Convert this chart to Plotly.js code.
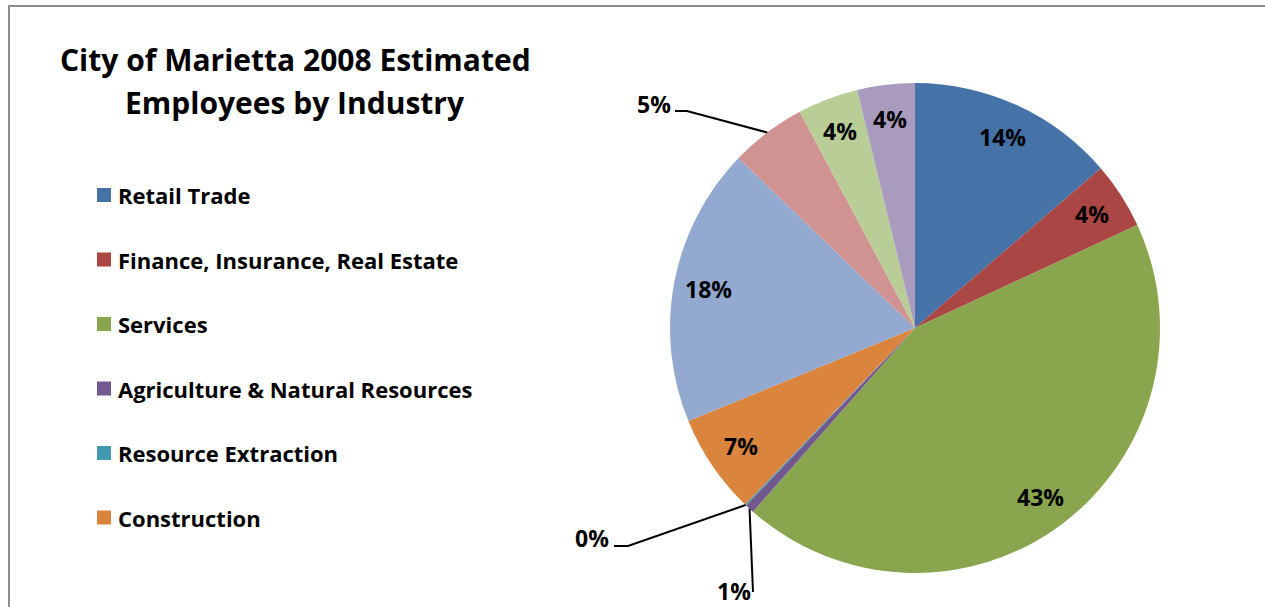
<!DOCTYPE html>
<html><head><meta charset="utf-8">
<script src="https://cdn.plot.ly/plotly-3.0.1.min.js"></script>
<style>html,body{margin:0;padding:0;background:#fff}#chart{width:1265px;height:607px}</style>
</head><body><div id="chart"></div>
<script>
// ---- data ----
const categories = ["Retail Trade", "Finance, Insurance, Real Estate", "Services",
  "Agriculture & Natural Resources", "Resource Extraction", "Construction",
  "Manufacturing", "Wholesale Trade", "Transportation, Communications, Utilities", "Government"];
const shares = [13.7, 4.4, 43.4, 0.6, 0.1, 6.6, 18.4, 5.0, 4.0, 3.8];
const titleLines = ["City of Marietta 2008 Estimated", "Employees by Industry"];

// ---- style ----
const colors = ["#4572A7", "#AA4643", "#89A54E", "#71588F", "#4198AF", "#DB843D",
  "#93A9CF", "#D19392", "#B9CD96", "#A99BBD"];
const W = 1265, H = 607;
const CX = 915, CY = 328, R = 245;
const FONT = "'Open Sans', sans-serif";
const legendShown = 6; // reference legend is cut off after six entries
// outside labels: leader line elbow/end and text position (pixels)
const outside = {
  3: {elbow: [753, 592], end: [753, 592], tx: 734, ty: 591},
  4: {elbow: [628, 546], end: [614, 546], tx: 592, ty: 538},
  7: {elbow: [687, 111], end: [675, 111], tx: 654, ty: 104}
};
const px = x => x / W, py = y => 1 - y / H;

const total = shares.reduce((a, b) => a + b, 0);
const annotations = [], shapes = [];
let cum = 0;
shares.forEach((v, i) => {
  const mid = (cum + v / 2) / total * 2 * Math.PI;
  cum += v;
  const label = Math.round(v / total * 100) + "%";
  const sx = Math.sin(mid), sy = -Math.cos(mid);
  if (outside[i]) {
    const o = outside[i];
    const x0 = CX + R * sx, y0 = CY + R * sy;
    shapes.push({type: "path", xref: "paper", yref: "paper",
      path: `M${px(x0)},${py(y0)} L${px(o.elbow[0])},${py(o.elbow[1])} L${px(o.end[0])},${py(o.end[1])}`,
      line: {color: "#000", width: 2}});
    annotations.push({xref: "paper", yref: "paper", x: px(o.tx), y: py(o.ty),
      text: "<b>" + label + "</b>", showarrow: false, xanchor: "center", yanchor: "middle",
      font: {family: FONT, size: 23, color: "#000"}});
  } else {
    const rr = R * 0.86;
    annotations.push({xref: "paper", yref: "paper", x: px(CX + rr * sx), y: py(CY + rr * sy),
      text: "<b>" + label + "</b>", showarrow: false, xanchor: "center", yanchor: "middle",
      font: {family: FONT, size: 23, color: "#000"}});
  }
});

// legend (drawn manually; only first entries visible as in reference)
for (let i = 0; i < legendShown; i++) {
  const yc = 195 + i * 64.5;
  shapes.push({type: "rect", xref: "paper", yref: "paper",
    x0: px(97), x1: px(111), y0: py(yc - 7), y1: py(yc + 7),
    fillcolor: colors[i], line: {width: 0}});
  annotations.push({xref: "paper", yref: "paper", x: px(116), y: py(yc),
    text: "<b>" + categories[i] + "</b>", showarrow: false, xanchor: "left", yanchor: "middle",
    font: {family: FONT, size: 22, color: "#000"}});
}
// title (two lines)
titleLines.forEach((t, k) => {
  annotations.push({xref: "paper", yref: "paper", x: px(295), y: py(60 + k * 43),
    text: "<b>" + t + "</b>", showarrow: false, xanchor: "center", yanchor: "middle",
    font: {family: FONT, size: 30, color: "#000"}});
});

// chart border (top and left visible)
shapes.push({type: "path", xref: "paper", yref: "paper",
  path: `M${px(9)},${py(H + 5)} L${px(9)},${py(6)} L${px(W + 5)},${py(6)}`,
  line: {color: "#8c8c8c", width: 2}});

const trace = {
  type: "pie", labels: categories, values: shares, sort: false,
  direction: "clockwise", rotation: 0,
  marker: {colors: colors, line: {width: 0}},
  textinfo: "none", hoverinfo: "skip", showlegend: false,
  domain: {x: [px(CX - R), px(CX + R)], y: [py(CY + R), py(CY - R)]}
};

Plotly.newPlot("chart", [trace], {
  width: W, height: H, margin: {l: 0, r: 0, t: 0, b: 0},
  paper_bgcolor: "#fff", showlegend: false,
  annotations: annotations, shapes: shapes
}, {displayModeBar: false, staticPlot: true});
</script></body></html>
